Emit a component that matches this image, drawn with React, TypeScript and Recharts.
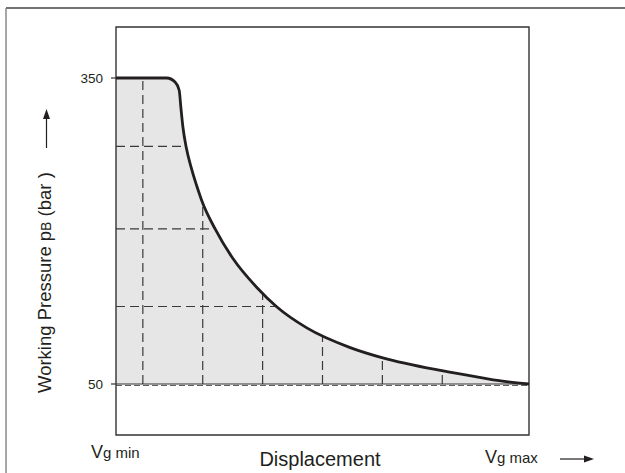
import { ComposedChart, Area, Line, XAxis, YAxis, ReferenceLine, ReferenceArea } from 'recharts'

// pump characteristic: displacement (% of Vg max) vs working pressure (bar)
const displacement = [0, 12.3, 14.3, 15.3, 15.7, 16.2, 17, 18.3, 19.9, 20.8, 24, 28.4, 34.1, 38.9, 46.2, 56.7, 64.6, 78.9, 88, 95, 100]
const pressure = [350, 350, 346, 338, 321.5, 302, 282, 261, 240, 229.5, 202, 172.5, 144.6, 125.7, 105, 85.7, 75.6, 63, 56.5, 52, 50]

const pressureTicks = [50, 350]
const minPressure = 50

// dashed helper lines, they stop where they meet the curve
const gridX = [6.5, 21, 35.5, 50, 64.5, 79]
const gridXTop = [350, 228, 139, 98, 75.6, 63]
const gridY = [283, 202, 126]
const gridYEnd = [16.9, 24, 38.9]

const data = displacement.map((x, i) => ({ x, p: pressure[i] }))

const font = "'Liberation Sans', Arial, Helvetica, sans-serif"
const ink = '#231f20'
const dash = '#3a3a3a'

export default function App() {
  return (
    <div style={{ position: 'absolute', left: 0, top: 0, width: 625, height: 473, background: '#fff' }}>
      <ComposedChart width={625} height={473} data={data} margin={{ top: 27, right: 96, bottom: 38, left: 56 }}>
        <XAxis dataKey="x" type="number" domain={[0, 100]} hide />
        <YAxis
          type="number"
          domain={[0, 400]}
          ticks={pressureTicks}
          width={60}
          axisLine={false}
          tickSize={5}
          tickMargin={8}
          tickLine={{ stroke: '#333', strokeWidth: 1.2 }}
          tick={{ fill: '#231f20', fontSize: 13.5, fontFamily: font }}
        />
        <Area
          type="monotone"
          dataKey="p"
          baseValue={minPressure}
          stroke="none"
          fill="#e6e6e6"
          fillOpacity={1}
          isAnimationActive={false}
        />
        {gridX.map((x, i) => (
          <ReferenceLine
            key={'vx' + i}
            segment={[{ x, y: minPressure }, { x, y: gridXTop[i] }]}
            stroke={dash}
            strokeWidth={1.2}
            strokeDasharray="9 5"
          />
        ))}
        {gridY.map((y, i) => (
          <ReferenceLine
            key={'hy' + i}
            segment={[{ x: 0, y }, { x: gridYEnd[i], y }]}
            stroke={dash}
            strokeWidth={1.2}
            strokeDasharray="9 5"
          />
        ))}
        <ReferenceLine y={minPressure} stroke="#333" strokeWidth={1.2} />
        <ReferenceLine y={minPressure - 1.4} stroke="#555" strokeWidth={1} strokeDasharray="6 3" />
        <Line
          type="monotone"
          dataKey="p"
          stroke={ink}
          strokeWidth={2.8}
          dot={false}
          activeDot={false}
          isAnimationActive={false}
        />
        <ReferenceArea x1={0} x2={100} y1={0} y2={400} stroke="#333" strokeWidth={1.4} fill="none" fillOpacity={0} />
      </ComposedChart>

      {/* frame lines, axis titles and arrows */}
      <svg width={625} height={473} style={{ position: 'absolute', left: 0, top: 0, pointerEvents: 'none' }}>
        <line x1={6} y1={8} x2={625} y2={8} stroke="#444" strokeWidth={1.4} />
        <line x1={6} y1={8} x2={6} y2={473} stroke="#8a8a8a" strokeWidth={1.5} />

        <text
          transform="translate(51, 393) rotate(-90)"
          fontFamily={font}
          fontSize={18.5}
          fill={ink}
        >
          Working Pressure p<tspan fontSize={14}>B</tspan> (bar )
        </text>
        <line x1={46.5} y1={148} x2={46.5} y2={116} stroke={ink} strokeWidth={1.2} />
        <path d="M46.5 109 L43 119 L50 119 Z" fill={ink} />

        <text x={91} y={458} fontFamily={font} fontSize={18} fill={ink}>
          V<tspan fontSize={15}>g min</tspan>
        </text>
        <text x={320} y={466} textAnchor="middle" fontFamily={font} fontSize={20} fill={ink}>
          Displacement
        </text>
        <text x={485} y={463} fontFamily={font} fontSize={18} fill={ink}>
          V<tspan fontSize={15}>g max</tspan>
        </text>
        <line x1={560} y1={459} x2={586} y2={459} stroke={ink} strokeWidth={1.2} />
        <path d="M594 459 L584 455.5 L584 462.5 Z" fill={ink} />
      </svg>
    </div>
  )
}
